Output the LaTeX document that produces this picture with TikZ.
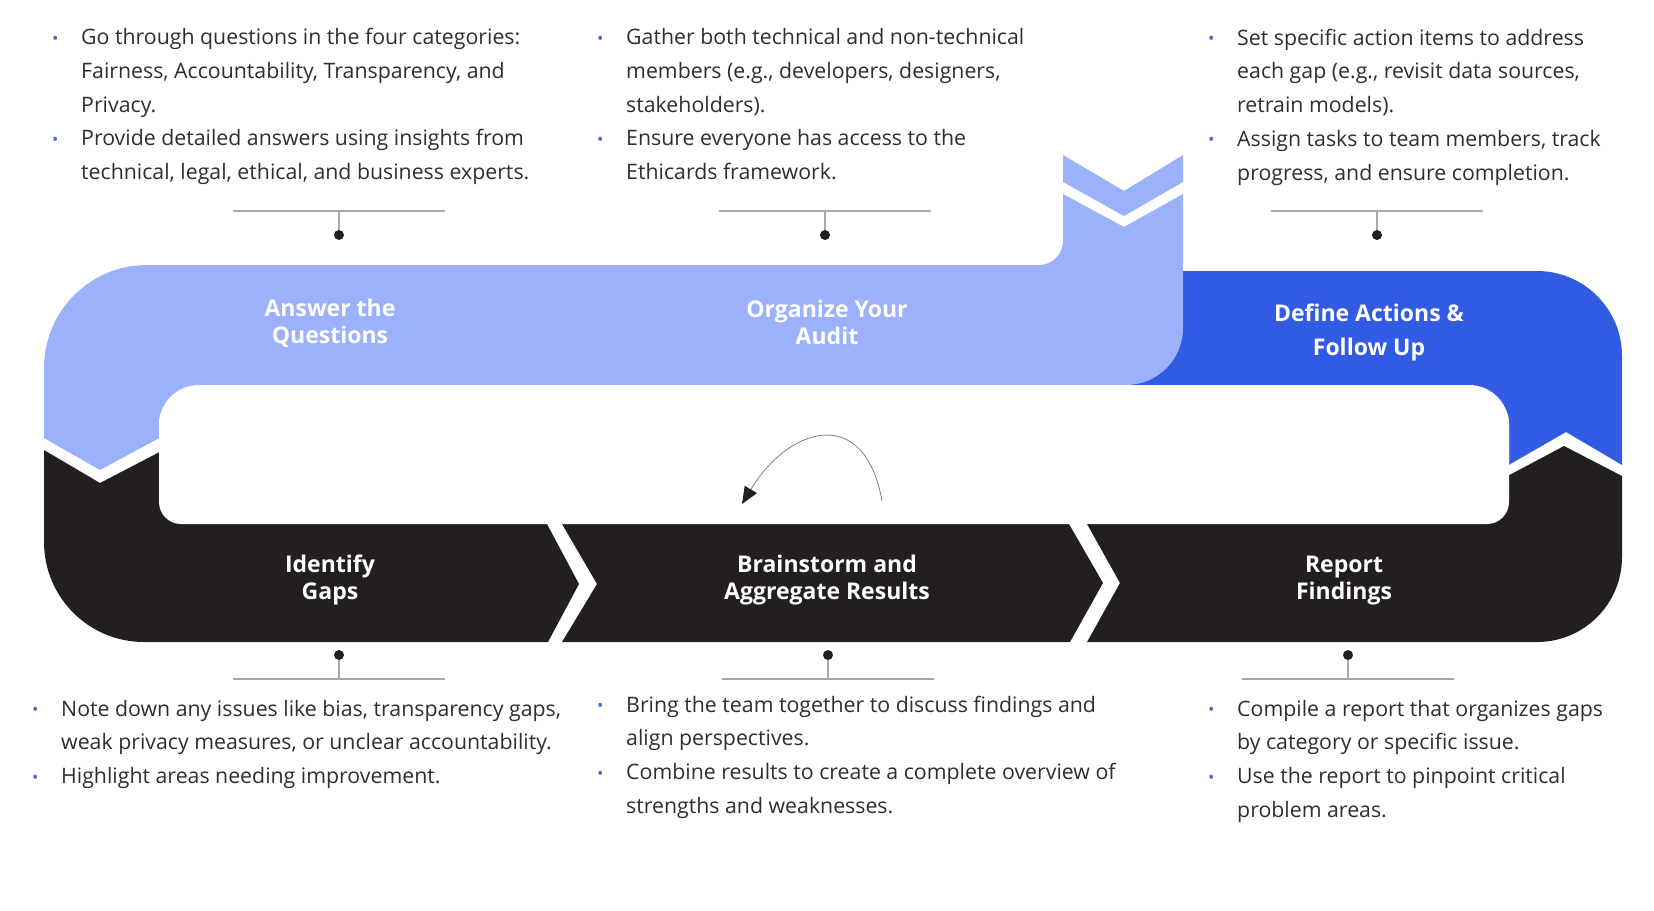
\documentclass[tikz,border=0pt]{standalone}
\usepackage{fontspec}
\setmainfont{Open Sans}
\usepackage{tikz}
\usetikzlibrary{arrows.meta,positioning}

\definecolor{lightblue}{HTML}{9CB1FC}
\definecolor{deepblue}{HTML}{325BE3}
\definecolor{ink}{HTML}{231F20}
\definecolor{textgray}{HTML}{2E2E2E}
\definecolor{bulletblue}{HTML}{4D67C6}
\definecolor{bargray}{HTML}{A8A8A8}

\newcommand{\notefont}{\fontsize{21.3}{33.75}\selectfont}
\newcommand{\stepfont}{\bfseries\fontsize{23}{27}\selectfont}
\newcommand{\blt}{\makebox[0pt][c]{\raisebox{.5pt}{\textcolor{bulletblue}{\fontsize{17}{17}\selectfont\textbullet}}}\hspace*{26pt}}
\newcommand{\indt}{\hspace*{26pt}}

\begin{document}
\begin{tikzpicture}[x=1pt,y=-1pt,
  steptxt/.style={text=white,font=\stepfont,align=center},
  notes/.style={anchor=base west,inner sep=0pt,text=textgray,font=\notefont},
  bar/.style={draw=bargray,line width=1.3pt},
  dot/.style={circle,fill=ink,inner sep=0pt,minimum size=10pt},
  arr/.style={-{Triangle[length=17pt,width=14pt,color=ink]},draw=gray,line width=.8pt}
]
\useasboundingbox (0,0) rectangle (1654,910);

% the loop band
\fill[deepblue] (1100,271) -- (1537,271) arc (270:360:85) -- (1622,465) -- (1566,432)
  -- (1460,493) -- (1460,385) -- (1100,385) -- cycle;
\fill[lightblue] (44,438) -- (44,368) arc (180:270:103) -- (1039,265) arc (90:0:24)
  -- (1063,194) -- (1124,227) -- (1183,194) -- (1183,328) arc (0:90:57)
  -- (200,385) -- (200,416) -- (100,470) -- cycle;
\fill[lightblue] (1063,155) -- (1124,191) -- (1183,155) -- (1183,182) -- (1124,216) -- (1063,182) -- cycle;
\fill[ink] (44,450) -- (100,483) -- (200,431) -- (200,524) -- (547,524) -- (579,584) -- (548,642)
  -- (144,642) arc (90:180:100) -- cycle;
\fill[ink] (562,524) -- (1069,524) -- (1103,583) -- (1070,642) -- (562,642) -- (597,584) -- cycle;
\fill[ink] (1087,524) -- (1470,524) -- (1470,496) -- (1564,446) -- (1622,476) -- (1622,557)
  arc (0:90:85) -- (1087,642) -- (1120,583) -- cycle;
\fill[white,rounded corners=40pt] (159,385) rectangle (1509,510);
\fill[white,rounded corners=22pt] (159,400) rectangle (1509,524);

% steps
\node[steptxt] (answer) at (330,323) {Answer the\\Questions};
\node[steptxt] (organize) at (827,322) {Organize Your\\Audit};
\node[steptxt,font=\bfseries\fontsize{23}{34}\selectfont] (define) at (1369,332) {Define Actions \&\\Follow Up};
\node[steptxt] (identify) at (330,580) {Identify\\Gaps};
\node[steptxt] (brainstorm) at (827,580) {Brainstorm and\\Aggregate Results};
\node[steptxt] (report) at (1344,581) {Report\\Findings};

% back arrow
\coordinate (loopstart) at (882,501);
\coordinate (loopend) at (742,504);
\draw[arr] (loopstart) .. controls (865,405) and (790,425) .. (loopend);

% pins
\coordinate (answerbar) at (339,211);
\node[dot] (answerdot) at (339,235) {};
\draw[bar] ([xshift=-106pt]answerbar) -- ([xshift=106pt]answerbar);
\draw[bar] (answerbar) -- (answerdot);
\coordinate (organizebar) at (825,211);
\node[dot] (organizedot) at (825,235) {};
\draw[bar] ([xshift=-106pt]organizebar) -- ([xshift=106pt]organizebar);
\draw[bar] (organizebar) -- (organizedot);
\coordinate (definebar) at (1377,211);
\node[dot] (definedot) at (1377,235) {};
\draw[bar] ([xshift=-106pt]definebar) -- ([xshift=106pt]definebar);
\draw[bar] (definebar) -- (definedot);
\coordinate (identifybar) at (339,679);
\node[dot] (identifydot) at (339,655) {};
\draw[bar] ([xshift=-106pt]identifybar) -- ([xshift=106pt]identifybar);
\draw[bar] (identifybar) -- (identifydot);
\coordinate (brainstormbar) at (828,679);
\node[dot] (brainstormdot) at (828,655) {};
\draw[bar] ([xshift=-106pt]brainstormbar) -- ([xshift=106pt]brainstormbar);
\draw[bar] (brainstormbar) -- (brainstormdot);
\coordinate (reportbar) at (1348,679);
\node[dot] (reportdot) at (1348,655) {};
\draw[bar] ([xshift=-106pt]reportbar) -- ([xshift=106pt]reportbar);
\draw[bar] (reportbar) -- (reportdot);

% notes
\node[notes] (answertxt) at (55,44.5) {\begin{tabular}[t]{@{}l@{}}
  \blt Go through questions in the four categories:\\
  \indt Fairness, Accountability, Transparency, and\\
  \indt Privacy.\\
  \blt Provide detailed answers using insights from\\
  \indt technical, legal, ethical, and business experts.
\end{tabular}};
\node[notes] (organizetxt) at (600,44.5) {\begin{tabular}[t]{@{}l@{}}
  \blt Gather both technical and non-technical\\
  \indt members (e.g., developers, designers,\\
  \indt stakeholders).\\
  \blt Ensure everyone has access to the\\
  \indt Ethicards framework.
\end{tabular}};
\node[notes] (definetxt) at (1211,45) {\begin{tabular}[t]{@{}l@{}}
  \blt Set specific action items to address\\
  \indt each gap (e.g., revisit data sources,\\
  \indt retrain models).\\
  \blt Assign tasks to team members, track\\
  \indt progress, and ensure completion.
\end{tabular}};
\node[notes] (identifytxt) at (35,716) {\begin{tabular}[t]{@{}l@{}}
  \blt Note down any issues like bias, transparency gaps,\\
  \indt weak privacy measures, or unclear accountability.\\
  \blt Highlight areas needing improvement.
\end{tabular}};
\node[notes] (brainstormtxt) at (600,712) {\begin{tabular}[t]{@{}l@{}}
  \blt Bring the team together to discuss findings and\\
  \indt align perspectives.\\
  \blt Combine results to create a complete overview of\\
  \indt strengths and weaknesses.
\end{tabular}};
\node[notes] (reporttxt) at (1211,716) {\begin{tabular}[t]{@{}l@{}}
  \blt Compile a report that organizes gaps\\
  \indt by category or specific issue.\\
  \blt Use the report to pinpoint critical\\
  \indt problem areas.
\end{tabular}};
\end{tikzpicture}
\end{document}
